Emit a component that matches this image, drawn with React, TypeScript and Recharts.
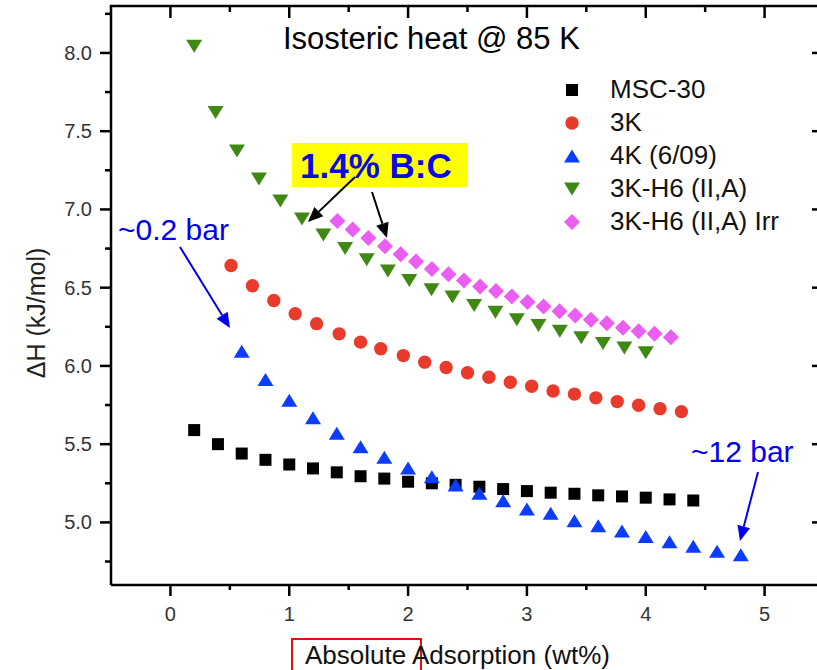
import React from "react";
import { ScatterChart, Scatter, XAxis, YAxis, Legend } from "recharts";

// wt% adsorbed vs isosteric heat (kJ/mol)
const MSC_X = [0.2, 0.4, 0.6, 0.8, 1.0, 1.2, 1.4, 1.6, 1.8, 2.0, 2.2, 2.4, 2.6, 2.8, 3.0, 3.2, 3.4, 3.6, 3.8, 4.0, 4.2, 4.4];
const MSC_Y = [5.59, 5.5, 5.44, 5.4, 5.37, 5.345, 5.32, 5.295, 5.28, 5.26, 5.25, 5.24, 5.228, 5.213, 5.2, 5.19, 5.183, 5.173, 5.166, 5.158, 5.147, 5.14];

const K3_X = [0.51, 0.69, 0.87, 1.05, 1.23, 1.42, 1.6, 1.77, 1.96, 2.14, 2.32, 2.5, 2.68, 2.86, 3.04, 3.22, 3.4, 3.58, 3.76, 3.94, 4.12, 4.3];
const K3_Y = [6.642, 6.512, 6.418, 6.333, 6.27, 6.205, 6.152, 6.11, 6.066, 6.024, 5.99, 5.956, 5.928, 5.896, 5.87, 5.84, 5.82, 5.796, 5.772, 5.749, 5.727, 5.708];

const K4_X = [0.6, 0.8, 1.0, 1.2, 1.4, 1.6, 1.8, 2.0, 2.2, 2.4, 2.6, 2.8, 3.0, 3.2, 3.4, 3.6, 3.8, 4.0, 4.2, 4.4, 4.6, 4.8];
const K4_Y = [6.094, 5.913, 5.78, 5.668, 5.57, 5.484, 5.416, 5.348, 5.292, 5.239, 5.186, 5.139, 5.086, 5.058, 5.011, 4.979, 4.945, 4.91, 4.877, 4.847, 4.815, 4.794];

const H6_X = [0.2, 0.38, 0.56, 0.745, 0.925, 1.107, 1.287, 1.47, 1.652, 1.83, 2.01, 2.197, 2.373, 2.556, 2.735, 2.915, 3.097, 3.277, 3.457, 3.64, 3.82, 4.0];
const H6_Y = [8.043, 7.62, 7.374, 7.195, 7.054, 6.939, 6.836, 6.751, 6.679, 6.606, 6.546, 6.487, 6.44, 6.386, 6.343, 6.295, 6.258, 6.222, 6.18, 6.143, 6.115, 6.084];

const IRR_X = [1.405, 1.534, 1.666, 1.806, 1.938, 2.067, 2.2, 2.34, 2.47, 2.606, 2.74, 2.873, 3.005, 3.14, 3.274, 3.406, 3.538, 3.673, 3.808, 3.94, 4.074, 4.212];
const IRR_Y = [6.926, 6.871, 6.817, 6.764, 6.713, 6.667, 6.62, 6.585, 6.546, 6.508, 6.478, 6.444, 6.408, 6.38, 6.35, 6.322, 6.295, 6.273, 6.244, 6.222, 6.205, 6.184];

const X_TICKS = [0, 0.5, 1, 1.5, 2, 2.5, 3, 3.5, 4, 4.5, 5];
const Y_TICKS = [4.75, 5, 5.25, 5.5, 5.75, 6, 6.25, 6.5, 6.75, 7, 7.25, 7.5, 7.75, 8, 8.25];

const X_DOMAIN = [-0.5, 5.5];
const Y_DOMAIN = [4.6, 8.3];

const FONT = "'Liberation Sans', Arial, sans-serif";
const TICK_COLOR = "#333";

// plot box inside the chart (left axis width 111, top margin 6, bottom axis 85, right margin 30)
const CHART_W = 854;
const CHART_H = 670;
const BOX = { left: 111, top: 6, right: CHART_W - 30, bottom: CHART_H - 85 };
const sx = (v: number) => BOX.left + ((v - X_DOMAIN[0]) / (X_DOMAIN[1] - X_DOMAIN[0])) * (BOX.right - BOX.left);
const sy = (v: number) => BOX.bottom - ((v - Y_DOMAIN[0]) / (Y_DOMAIN[1] - Y_DOMAIN[0])) * (BOX.bottom - BOX.top);

const zip = (xs: number[], ys: number[]) => xs.map((x, i) => ({ x, y: ys[i] }));

type Kind = "square" | "circle" | "up" | "down" | "diamond";

function marker(kind: Kind, fill: string, cx: number, cy: number) {
  switch (kind) {
    case "square":
      return <rect x={cx - 6} y={cy - 6} width={12} height={12} fill={fill} />;
    case "circle":
      return <circle cx={cx} cy={cy} r={6.7} fill={fill} />;
    case "up":
      return <polygon points={`${cx - 8},${cy + 6.5} ${cx + 8},${cy + 6.5} ${cx},${cy - 6.5}`} fill={fill} />;
    case "down":
      return <polygon points={`${cx - 8},${cy - 6.5} ${cx + 8},${cy - 6.5} ${cx},${cy + 6.5}`} fill={fill} />;
    default:
      return <polygon points={`${cx},${cy - 8} ${cx + 8},${cy} ${cx},${cy + 8} ${cx - 8},${cy}`} fill={fill} />;
  }
}

const SERIES: { name: string; kind: Kind; color: string; data: { x: number; y: number }[] }[] = [
  { name: "MSC-30", kind: "square", color: "#000000", data: zip(MSC_X, MSC_Y) },
  { name: "3K", kind: "circle", color: "#e93b2b", data: zip(K3_X, K3_Y) },
  { name: "4K (6/09)", kind: "up", color: "#0b3cff", data: zip(K4_X, K4_Y) },
  { name: "3K-H6 (II,A)", kind: "down", color: "#3f8813", data: zip(H6_X, H6_Y) },
  { name: "3K-H6 (II,A) Irr", kind: "diamond", color: "#ea5ef2", data: zip(IRR_X, IRR_Y) },
];

const isMajorX = (v: number) => Number.isInteger(v);
const isMajorY = (v: number) => Math.abs(v * 2 - Math.round(v * 2)) < 1e-6;

const BottomTick = (p: any) => {
  const v = p.payload.value;
  if (!isMajorX(v)) return <g />;
  return (
    <text x={p.x} y={p.y + 36} textAnchor="middle" fontSize={20} fill={TICK_COLOR} fontFamily={FONT}>
      {v}
    </text>
  );
};

const LeftTick = (p: any) => {
  const v = p.payload.value;
  if (!isMajorY(v)) return <g />;
  return (
    <text x={p.x - 19} y={p.y + 7} textAnchor="end" fontSize={20} fill={TICK_COLOR} fontFamily={FONT}>
      {v.toFixed(1)}
    </text>
  );
};

// frame on top/right plus the tick marks of all four sides, placed from the tick arrays
function Frame() {
  const t = 2.5;
  return (
    <g fill="#000">
      <rect x={BOX.left - t / 2} y={BOX.top - t / 2} width={BOX.right - BOX.left + t} height={t} />
      <rect x={BOX.right - t / 2} y={BOX.top - t / 2} width={t} height={BOX.bottom - BOX.top + t} />
      {X_TICKS.map((v) => {
        const m = isMajorX(v);
        return (
          <g key={`x${v}`}>
            <rect x={sx(v) - t / 2} y={BOX.bottom} width={t} height={m ? 11 : 5} />
            <rect x={sx(v) - t / 2} y={BOX.top} width={t} height={m ? 12 : 6} />
          </g>
        );
      })}
      {Y_TICKS.map((v) => {
        const m = isMajorY(v);
        const out = m ? 11 : 6;
        const inn = m ? 12 : 6;
        return (
          <g key={`y${v}`}>
            <rect x={BOX.left - out} y={sy(v) - t / 2} width={out} height={t} />
            <rect x={BOX.right - inn} y={sy(v) - t / 2} width={inn} height={t} />
          </g>
        );
      })}
    </g>
  );
}

const LegendBox = () => (
  <div style={{ fontFamily: FONT, fontSize: 26, color: "#111" }}>
    {SERIES.map((s) => (
      <div key={s.name} style={{ display: "flex", alignItems: "center", height: 33 }}>
        <svg width={20} height={20} style={{ marginRight: 28 }}>
          {marker(s.kind, s.color, 10, 10)}
        </svg>
        <span style={{ whiteSpace: "nowrap" }}>{s.name}</span>
      </div>
    ))}
  </div>
);

function Arrow({ x1, y1, x2, y2, color }: { x1: number; y1: number; x2: number; y2: number; color: string }) {
  const a = Math.atan2(y2 - y1, x2 - x1);
  const L = 15;
  const W = 6.5;
  const bx = x2 - L * Math.cos(a);
  const by = y2 - L * Math.sin(a);
  const px = -Math.sin(a) * W;
  const py = Math.cos(a) * W;
  return (
    <g>
      <line x1={x1} y1={y1} x2={bx} y2={by} stroke={color} strokeWidth={2} />
      <polygon points={`${x2},${y2} ${bx + px},${by + py} ${bx - px},${by - py}`} fill={color} />
    </g>
  );
}

export default function App() {
  const axisLine = { stroke: "#000", strokeWidth: 2.5 };
  return (
    <div style={{ position: "absolute", left: 0, top: 0, width: 817, height: 670, overflow: "hidden", background: "#fff" }}>
      <ScatterChart width={CHART_W} height={CHART_H} margin={{ top: 6, right: 30, bottom: 0, left: 0 }}>
        <XAxis
          xAxisId="b"
          type="number"
          dataKey="x"
          domain={X_DOMAIN}
          ticks={X_TICKS}
          interval={0}
          height={85}
          tickSize={0}
          tickMargin={0}
          tickLine={false}
          axisLine={axisLine}
          tick={BottomTick}
          allowDataOverflow
        />
        <YAxis
          yAxisId="l"
          type="number"
          dataKey="y"
          domain={Y_DOMAIN}
          ticks={Y_TICKS}
          interval={0}
          width={111}
          tickSize={0}
          tickMargin={0}
          tickLine={false}
          axisLine={axisLine}
          tick={LeftTick}
          allowDataOverflow
        />
        <Legend
          layout="vertical"
          align="center"
          verticalAlign="middle"
          content={() => <LegendBox />}
          wrapperStyle={{ left: 562, top: 73, width: 260, height: 170 }}
        />
        {SERIES.map((s) => (
          <Scatter
            key={s.name}
            name={s.name}
            xAxisId="b"
            yAxisId="l"
            data={s.data}
            fill={s.color}
            isAnimationActive={false}
            shape={(p: any) => marker(s.kind, s.color, p.cx, p.cy)}
          />
        ))}
      </ScatterChart>

      <svg width={817} height={670} style={{ position: "absolute", left: 0, top: 0, pointerEvents: "none" }}>
        <Frame />

        <text x={283} y={49} fontSize={31} fontFamily={FONT} fill="#000">
          Isosteric heat @ 85 K
        </text>

        <rect x={292} y={143} width={176} height={44} fill="#ffff00" />
        <text x={300} y={178} fontSize={35} fontWeight="bold" fontFamily={FONT} fill="#0a0ae6">
          1.4% B:C
        </text>
        <Arrow x1={355} y1={177} x2={308} y2={222} color="#000" />
        <Arrow x1={372} y1={192} x2={387} y2={238} color="#000" />

        <text x={118} y={240} fontSize={30} fontFamily={FONT} fill="#0000ee">
          ~0.2 bar
        </text>
        <Arrow x1={180} y1={247} x2={230} y2={328} color="#0000ee" />

        <text x={691} y={462} fontSize={30} fontFamily={FONT} fill="#0000ee">
          ~12 bar
        </text>
        <Arrow x1={758} y1={472} x2={740} y2={541} color="#0000ee" />

        <text
          x={0}
          y={0}
          transform="translate(45,313) rotate(-90)"
          textAnchor="middle"
          fontSize={25}
          fontFamily={FONT}
          fill="#222"
        >
          ΔH (kJ/mol)
        </text>

        <rect x={292} y={639} width={129} height={40} fill="none" stroke="#e01010" strokeWidth={2} />
        <text x={305} y={664} fontSize={26} fontFamily={FONT} fill="#111">
          Absolute Adsorption (wt%)
        </text>
      </svg>
    </div>
  );
}
